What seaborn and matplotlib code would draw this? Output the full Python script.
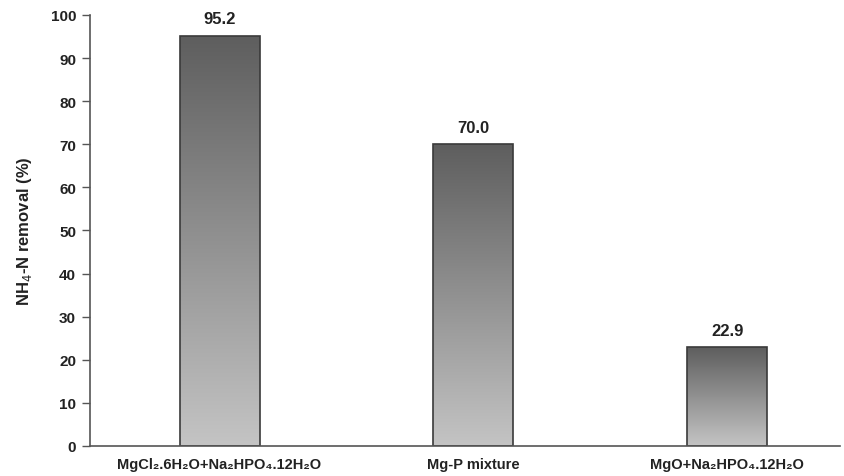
import matplotlib
matplotlib.use("Agg")
import matplotlib.pyplot as plt
import seaborn as sns
import numpy as np
import pandas as pd

categories = ["MgCl\u2082.6H\u2082O+Na\u2082HPO\u2084.12H\u2082O", "Mg-P mixture", "MgO+Na\u2082HPO\u2084.12H\u2082O"]
values = [95.2, 70.0, 22.9]
value_labels = ["95.2", "70.0", "22.9"]
yticks = [0, 10, 20, 30, 40, 50, 60, 70, 80, 90, 100]

sns.set_theme(style="white")
plt.rcParams['font.family'] = ['Liberation Sans', 'DejaVu Sans']

fig = plt.figure(figsize=(8.45, 4.77), dpi=100)
ax = fig.add_axes([0.1065, 0.063, 0.8875, 0.9035])

df = pd.DataFrame({"cat": categories, "val": values})
sns.barplot(data=df, x="cat", y="val", ax=ax, width=0.315, color="#888888",
            edgecolor="#3a3a3a", linewidth=1.2)

grad = np.linspace(0, 1, 256).reshape(-1, 1)
cmap = matplotlib.colors.LinearSegmentedColormap.from_list("g", ["#c4c4c4", "#5e5e5e"])
for p in ax.patches:
    x0, y0 = p.get_x(), p.get_y()
    w, h = p.get_width(), p.get_height()
    p.set_facecolor("none")
    im = ax.imshow(grad, extent=[x0, x0 + w, y0, y0 + h], origin="lower",
                   cmap=cmap, aspect="auto", zorder=p.get_zorder() - 0.1)
    im.set_clip_path(p)

for i, (v, lab) in enumerate(zip(values, value_labels)):
    ax.text(i, v + 4.0, lab, ha="center", va="center", fontsize=12,
            fontweight="bold", color="#222222")

ax.set_xlim(-0.51, 2.443)
ax.set_ylim(0, 100)
ax.set_yticks(yticks)
ax.set_yticklabels([str(t) for t in yticks], fontsize=11, fontweight="bold", color="#222222")
for lab in ax.get_xticklabels():
    lab.set_fontsize(10.5)
    lab.set_fontweight("bold")
    lab.set_color("#222222")
ax.set_xlabel("")
ax.set_ylabel("NH$_4$-N removal (%)", fontsize=12, fontweight="bold", color="#222222", labelpad=12)
ax.tick_params(axis="y", direction="out", length=6, width=1, color="#555555", left=True, pad=4)
ax.tick_params(axis="x", length=0, pad=8)
sns.despine(ax=ax)
ax.spines["left"].set_color("#555555")
ax.spines["bottom"].set_color("#555555")
ax.spines["left"].set_linewidth(1.2)
ax.spines["bottom"].set_linewidth(1.2)

fig.savefig("out.png", dpi=100)
